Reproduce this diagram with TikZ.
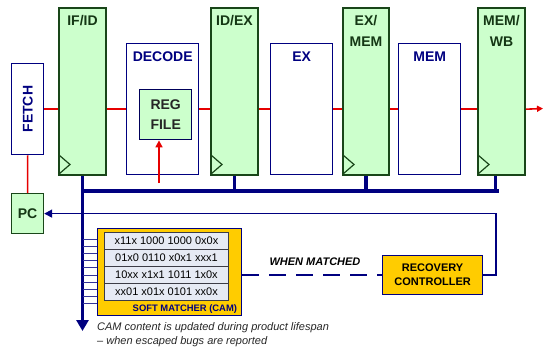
\documentclass[tikz,border=0pt]{standalone}
\usepackage{fontspec}
\setmainfont{Liberation Sans}
\usepackage{tikz}
\usetikzlibrary{arrows.meta,positioning,calc}
\definecolor{cpunavy}{RGB}{0,0,128}
\definecolor{reggreen}{RGB}{204,255,204}
\definecolor{regedge}{RGB}{25,70,25}
\definecolor{regtext}{RGB}{20,55,20}
\definecolor{camorange}{RGB}{255,204,0}
\definecolor{camrowfill}{RGB}{230,234,244}
\definecolor{camrowedge}{RGB}{60,60,70}
\definecolor{pathred}{RGB}{230,0,0}

\begin{document}
\begin{tikzpicture}[x=1pt,y=-1pt,
    pipereg/.style={rectangle, draw=regedge, fill=reggreen, line width=2pt,
        minimum width=47pt, minimum height=167pt, inner sep=0pt, anchor=north west},
    stage/.style={rectangle, draw=cpunavy, fill=white, line width=1.4pt,
        minimum width=62pt, minimum height=131pt, inner sep=0pt, anchor=north west},
    reglbl/.style={font=\fontsize{14}{21}\selectfont\bfseries, text=regtext, align=center, inner sep=0pt},
    stagelbl/.style={font=\fontsize{14}{21}\selectfont\bfseries, text=cpunavy, inner sep=0pt},
    camrow/.style={rectangle, draw=camrowedge, fill=camrowfill, line width=1pt,
        minimum width=124pt, minimum height=17pt, inner sep=0pt, anchor=north west,
        font=\fontsize{11}{13}\selectfont},
    clk/.style={draw=regedge, line width=1.2pt},
    dp/.style={draw=pathred, line width=1.6pt},
    bus/.style={draw=cpunavy, line width=3.3pt},
    ctl/.style={draw=cpunavy, line width=1.6pt},
    stub/.style={draw=cpunavy!80, line width=0.9pt},
    >=Triangle
]
\useasboundingbox (0,0) rectangle (543,354);

% pipeline stages and registers
\node[stage, minimum width=32pt, minimum height=91pt] (fetch) at (11,63) {};
\node[stagelbl, rotate=90] (fetchtxt) at (fetch.center) {FETCH};
\node[pipereg] (ifid) at (58,7) {};
\node[stage, minimum width=72pt] (decode) at (126,43) {};
\node[rectangle, draw=cpunavy!70!black, fill=reggreen, line width=1.4pt,
      minimum width=52pt, minimum height=50pt, anchor=north west, align=center,
      font=\fontsize{14}{20}\selectfont\bfseries, text=black!85] (regfile) at (139,89) {REG\\FILE};
\node[pipereg] (idex) at (210,7) {};
\node[stage] (ex) at (270,43) {};
\node[pipereg, minimum width=46pt] (exmem) at (342,7) {};
\node[stage] (mem) at (398,43) {};
\node[pipereg] (memwb) at (477,7) {};
\node[rectangle, draw=regedge, fill=reggreen, line width=1.2pt, minimum width=32pt,
      minimum height=40pt, anchor=north west, font=\fontsize{14}{16}\selectfont\bfseries,
      text=regtext] (pc) at (11,193) {PC};

\node[reglbl, below=8pt of ifid.north] (ifidtxt) {IF/ID};
\node[reglbl, below=8pt of idex.north] (idextxt) {ID/EX};
\node[reglbl, below=8pt of exmem.north] (exmemtxt) {EX/\\MEM};
\node[reglbl, below=8pt of memwb.north] (memwbtxt) {MEM/\\WB};
\node[stagelbl, below=9pt of decode.north] (decodetxt) {DECODE};
\node[stagelbl, below=9pt of ex.north] (extxt) {EX};
\node[stagelbl, below=9pt of mem.north] (memtxt) {MEM};

\foreach \r in {ifid,idex,exmem,memwb}
  \draw[clk] (\r.south west) ++(1,-21) -- ++(11,9.5) -- ++(-11,9.5);

% datapath
\draw[dp] (fetch.east) -- (fetch.east -| ifid.west);
\foreach \a/\b in {ifid/decode,decode/idex,idex/ex,ex/exmem,exmem/mem,mem/memwb}
  \draw[dp] (\a.east |- fetch.east) -- (\b.west |- fetch.east);
\coordinate (wbout) at (543,108.5);
\draw[dp,-{Triangle[length=6pt,width=6pt]}] (memwb.east |- fetch.east) -- (wbout);
\draw[dp] (fetch.south) -- (pc.north);
\coordinate (rfin) at (159,183);
\draw[dp,-{Triangle[length=7pt,width=7pt]}] (rfin) -- (rfin |- regfile.south);

% matcher and recovery
\node[rectangle, draw=cpunavy, fill=camorange, line width=1.2pt, minimum width=144pt,
      minimum height=87pt, anchor=north west] (cam) at (97,228) {};
\foreach \t [count=\i from 0] in {x11x 1000 1000 0x0x,01x0 0110 x0x1 xxx1,10xx x1x1 1011 1x0x,xx01 x01x 0101 xx0x}
  \node[camrow] (row\i) at (104,232+17*\i) {\t};
\node[anchor=east, inner sep=0pt, font=\fontsize{9.4}{11}\selectfont\bfseries, text=cpunavy]
  (camname) at ([xshift=-5pt,yshift=7pt]cam.south east) {SOFT MATCHER (CAM)};
\node[rectangle, draw=cpunavy, fill=camorange, line width=1.2pt, minimum width=100pt,
      minimum height=39pt, anchor=north west, align=center,
      font=\fontsize{11}{14}\selectfont\bfseries] (recov) at (382,255) {RECOVERY\\CONTROLLER};

% bus and control
\coordinate (busrow) at (0,191);
\coordinate (busend) at (0,331);
\draw[bus,-{Triangle[length=11pt,width=12pt]}] (ifid.south) -- (ifid.south |- busend);
\draw[bus] (ifid.south |- busrow) -- ([xshift=-3pt]memwb.south |- busrow);
\foreach \r in {idex,exmem}
  \draw[bus] (\r.south) -- (\r.south |- busrow);
\draw[bus] ([xshift=-6pt]memwb.south) -- ([xshift=-6pt]memwb.south |- busrow);
\foreach \i in {0,...,9} {
  \coordinate (s\i) at (0,239+7.2*\i);
  \draw[stub] (ifid.south |- s\i) -- (cam.west |- s\i);
}
\draw[ctl,-{Triangle[length=8pt,width=8pt]}] (recov.east) -- ++(13,0) |- (pc.east);
\draw[ctl, line width=1.3pt, dash pattern=on 17pt off 10pt] (cam.east |- recov.west) -- (recov.west);
\node[font=\fontsize{11}{13}\selectfont\bfseries\itshape, inner sep=0pt] (match) at (315,262) {WHEN MATCHED};

\node[anchor=north west, align=left, inner sep=0pt, text=black!85,
      font=\fontsize{11}{14}\selectfont\itshape] (camnote) at (97,322)
  {CAM content is updated during product lifespan\\-- when escaped bugs are reported};
\end{tikzpicture}
\end{document}
